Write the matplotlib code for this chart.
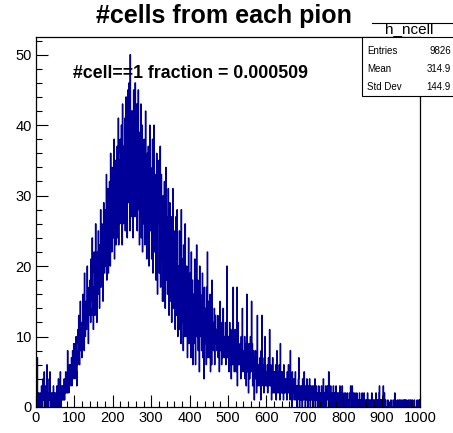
import numpy as np
import matplotlib
matplotlib.use("Agg")
import matplotlib.pyplot as plt
from matplotlib.patches import Rectangle
from matplotlib.lines import Line2D

# bin contents of h_ncell (1 bin per cell count, 0..999)
counts_000 = [0, 5, 2, 7, 1, 0, 2, 1, 1, 0,  2, 1, 0, 1, 3, 1, 0, 2, 4, 1,
              1, 5, 0, 2, 1, 3, 1, 0, 6, 2,  1, 0, 2, 1, 4, 1, 5, 0, 1, 2,
              0, 1, 2, 1, 0, 3, 1, 2, 0, 1,  2, 0, 1, 1, 3, 0, 2, 1, 4, 1,
              0, 2, 1, 5, 1, 0, 2, 3, 1, 2,  3, 1, 2, 4, 1, 3, 2, 5, 2, 3,
              4, 2, 8, 3, 5, 2, 4, 6, 3, 5,  6, 4, 7, 3, 5, 8, 4, 6, 9, 5]
counts_100 = [7, 4, 9, 6, 10, 5, 3, 8, 6, 11,  9, 13, 7, 6, 11, 15, 8, 10, 12, 7,
              12, 9, 16, 11, 14, 8, 19, 13, 10, 12,  15, 11, 13, 20, 12, 16, 9, 14, 17, 13,
              18, 14, 12, 21, 16, 15, 24, 13, 17, 11,  16, 22, 19, 13, 18, 26, 15, 20, 12, 17,
              22, 18, 25, 16, 20, 14, 23, 19, 28, 17,  20, 26, 18, 24, 15, 22, 29, 21, 19, 25,
              28, 20, 25, 33, 18, 27, 22, 31, 19, 26,  25, 32, 27, 20, 36, 26, 30, 22, 34, 28]
counts_200 = [33, 24, 28, 38, 21, 30, 26, 35, 23, 31,  27, 37, 24, 31, 41, 23, 30, 35, 26, 38,
              36, 27, 40, 31, 23, 43, 33, 26, 37, 29,  28, 41, 25, 34, 44, 31, 38, 24, 36, 45,
              39, 29, 46, 33, 25, 50, 37, 30, 42, 27,  33, 42, 24, 37, 45, 30, 39, 27, 46, 34,
              29, 38, 43, 25, 36, 31, 45, 28, 39, 23,  37, 27, 34, 43, 24, 32, 40, 22, 35, 29,
              26, 38, 29, 23, 34, 42, 27, 33, 21, 36,  32, 24, 37, 27, 20, 31, 40, 25, 34, 28]
counts_300 = [32, 21, 29, 38, 19, 30, 24, 40, 22, 27,  23, 33, 18, 28, 36, 24, 16, 30, 26, 35,
              29, 19, 26, 37, 17, 27, 33, 21, 24, 15,  20, 30, 24, 15, 32, 21, 14, 27, 34, 22,
              18, 27, 16, 24, 31, 20, 13, 23, 29, 17,  23, 15, 27, 12, 21, 18, 31, 14, 20, 25,
              15, 24, 11, 21, 27, 17, 13, 28, 19, 10,  20, 12, 18, 25, 11, 16, 22, 9, 28, 15,
              12, 21, 16, 8, 23, 14, 19, 10, 26, 18,  17, 10, 20, 14, 7, 18, 12, 24, 9, 16]
counts_400 = [12, 19, 15, 7, 22, 14, 10, 18, 6, 15,  16, 9, 14, 21, 11, 6, 17, 12, 23, 10,
              11, 18, 8, 15, 13, 5, 20, 10, 16, 12,  15, 8, 12, 19, 7, 13, 10, 4, 17, 12,
              9, 14, 11, 6, 17, 12, 22, 7, 11, 15,  13, 7, 11, 16, 5, 10, 14, 6, 18, 9,
              9, 12, 8, 11, 14, 6, 10, 13, 9, 11,  11, 8, 10, 13, 7, 9, 12, 5, 10, 15,
              8, 11, 9, 6, 12, 10, 7, 14, 9, 8,  10, 7, 9, 12, 6, 8, 11, 20, 7, 9]
counts_500 = [7, 10, 5, 9, 12, 6, 8, 11, 4, 9,  9, 6, 8, 17, 7, 10, 5, 8, 11, 6,
              8, 5, 10, 17, 3, 9, 12, 6, 8, 7,  6, 9, 7, 4, 10, 8, 5, 14, 7, 6,
              8, 5, 7, 10, 4, 6, 9, 3, 7, 16,  5, 8, 6, 2, 9, 7, 4, 6, 10, 5,
              7, 15, 6, 9, 3, 5, 8, 6, 1, 7,  5, 8, 4, 6, 2, 7, 13, 5, 3, 6,
              4, 6, 3, 7, 5, 1, 8, 4, 13, 5,  6, 3, 5, 2, 7, 4, 10, 5, 3, 4]
counts_600 = [5, 3, 6, 2, 4, 7, 3, 5, 11, 4,  3, 6, 4, 1, 5, 3, 7, 2, 4, 5,
              4, 2, 5, 3, 6, 1, 4, 8, 3, 2,  5, 3, 2, 6, 4, 1, 9, 3, 5, 2,
              3, 5, 2, 4, 1, 6, 3, 2, 4, 3,  2, 4, 3, 1, 5, 2, 3, 6, 2, 4,
              3, 1, 8, 2, 4, 3, 0, 5, 2, 3,  2, 4, 1, 3, 2, 5, 1, 3, 2, 0,
              3, 1, 2, 4, 7, 2, 0, 3, 1, 2,  1, 3, 2, 0, 4, 2, 1, 3, 5, 2]
counts_700 = [2, 0, 3, 1, 2, 4, 1, 2, 0, 3,  1, 2, 4, 1, 0, 3, 2, 1, 2, 3,
              2, 0, 1, 3, 2, 1, 4, 0, 2, 1,  3, 1, 2, 0, 1, 2, 3, 1, 0, 2,
              1, 2, 0, 3, 1, 2, 1, 0, 4, 1,  2, 1, 0, 2, 3, 1, 0, 2, 3, 3,
              1, 2, 5, 0, 1, 2, 1, 3, 0, 1,  2, 0, 1, 1, 3, 0, 2, 1, 0, 2,
              1, 3, 0, 1, 2, 0, 1, 2, 1, 0,  2, 3, 0, 1, 2, 1, 0, 3, 1, 1]
counts_800 = [1, 0, 2, 1, 0, 1, 2, 0, 1, 1,  0, 2, 1, 0, 1, 1, 0, 2, 1, 3,
              1, 0, 1, 3, 0, 1, 2, 0, 1, 0,  2, 1, 0, 1, 0, 2, 1, 0, 1, 1,
              0, 1, 2, 0, 1, 0, 1, 1, 0, 2,  1, 0, 1, 0, 2, 1, 0, 0, 1, 1,
              0, 1, 0, 2, 0, 1, 1, 0, 0, 1,  1, 0, 0, 1, 2, 0, 1, 0, 1, 0,
              0, 1, 1, 0, 0, 2, 0, 1, 0, 1,  1, 0, 0, 2, 3, 0, 1, 0, 0, 1]
counts_900 = [0, 1, 0, 0, 3, 1, 0, 2, 0, 0,  1, 0, 0, 0, 0, 0, 1, 0, 0, 0,
              0, 0, 0, 0, 1, 0, 0, 0, 0, 0,  1, 0, 0, 0, 2, 0, 1, 0, 0, 0,
              0, 1, 0, 0, 0, 1, 0, 0, 1, 0,  0, 0, 1, 0, 0, 0, 1, 0, 0, 1,
              0, 1, 0, 0, 1, 0, 0, 0, 0, 1,  0, 0, 0, 1, 0, 0, 1, 0, 0, 0,
              1, 0, 0, 0, 0, 1, 0, 0, 0, 0,  0, 0, 1, 0, 0, 0, 0, 1, 0, 1]

title = "#cells from each pion"
note = "#cell==1 fraction = 0.000509"
stats_name = "h_ncell"
stats_rows = [("Entries", "9826"), ("Mean", "314.9"), ("Std Dev", "144.9")]

W, H = 453, 433
plt.rcParams['font.family'] = ['Liberation Sans', 'DejaVu Sans']


def fx(px):
    return px / W


def fy(py):
    return 1 - py / H


counts = np.concatenate([counts_000, counts_100, counts_200, counts_300, counts_400,
                         counts_500, counts_600, counts_700, counts_800, counts_900])
edges = np.arange(0, len(counts) + 1)

fig = plt.figure(figsize=(W / 100, H / 100), dpi=100)
ax = fig.add_axes([fx(36), fy(407), fx(420) - fx(36), fy(37) - fy(407)])

ax.stairs(counts, edges, color='#000099', linewidth=1.0)
ax.set_xlim(0, 1000)
ax.set_ylim(0, counts.max() * 1.05)

ax.set_xticks(np.arange(0, 1001, 100))
ax.set_xticks(np.arange(0, 1001, 20), minor=True)
ax.set_yticks(np.arange(0, 51, 10))
ax.set_yticks(np.arange(0, 53, 2), minor=True)
ax.tick_params(which='both', direction='in', top=False, right=False, width=0.8)
ax.tick_params(which='major', length=8.3, labelsize=10.5, pad=3)
ax.tick_params(which='minor', length=4.2)
for s in ax.spines.values():
    s.set_linewidth(0.9)

fig.text(fx(224), fy(16), title, ha='center', va='center', fontsize=18, fontweight='bold')
ax.text(fx(73), fy(73), note, transform=fig.transFigure, ha='left', va='center',
        fontsize=12.8, fontweight='bold')

# stats box
box = Rectangle((fx(362), fy(96)), fx(460) - fx(362), fy(37) - fy(96),
                transform=fig.transFigure, facecolor='white', edgecolor='black',
                linewidth=0.8, zorder=5)
fig.add_artist(box)
fig.add_artist(Line2D([fx(372), fx(453)], [fy(22.5), fy(22.5)], color='black',
                      linewidth=0.8, transform=fig.transFigure))
fig.text(fx(409), fy(29.5), stats_name, ha='center', va='center', fontsize=11, zorder=6)
for (lab, val), yy in zip(stats_rows, [51, 69, 87]):
    fig.text(fx(367), fy(yy), lab, ha='left', va='center', fontsize=7, zorder=6)
    fig.text(fx(451), fy(yy), val, ha='right', va='center', fontsize=7, zorder=6)

fig.savefig("out.png", dpi=100)
